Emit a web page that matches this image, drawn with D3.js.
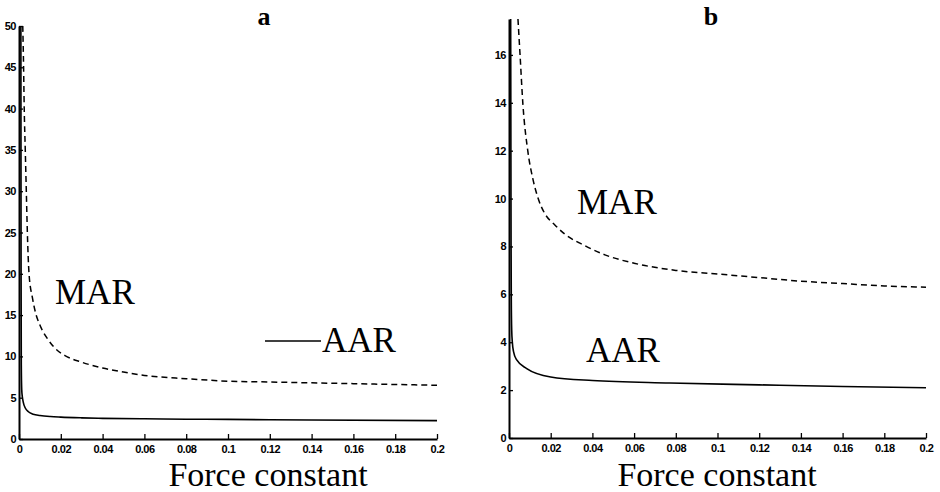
<!DOCTYPE html>
<html>
<head>
<meta charset="utf-8">
<script src="https://cdn.jsdelivr.net/npm/d3@7"></script>
<style>
  body { margin: 0; background: #fff; }
</style>
</head>
<body>
<svg id="chart" width="940" height="492"></svg>
<script>
// panel a
var aForce = [0.0009, 0.001, 0.0011, 0.0013, 0.0016, 0.002, 0.003, 0.0045, 0.0068, 0.01, 0.015, 0.02, 0.03, 0.04, 0.06, 0.08, 0.1, 0.14, 0.2];
var aAAR   = [50, 20, 9, 6, 5.1, 4.5, 3.75, 3.3, 3.0, 2.85, 2.72, 2.65, 2.56, 2.5, 2.45, 2.4, 2.37, 2.3, 2.22];
var aMarForce = [0.0018, 0.0022, 0.0025, 0.003, 0.0035, 0.004, 0.0048, 0.0065, 0.008, 0.01, 0.014, 0.018, 0.022, 0.03, 0.04, 0.05, 0.06, 0.08, 0.1, 0.12, 0.14, 0.16, 0.18, 0.2];
var aMAR      = [50, 45, 40, 35, 30, 25, 20, 17, 15.2, 13.8, 12, 10.8, 10.1, 9.3, 8.6, 8.1, 7.7, 7.3, 7.0, 6.9, 6.8, 6.7, 6.6, 6.5];

// panel b
var bForce = [0.0008, 0.001, 0.0011, 0.0013, 0.0016, 0.0022, 0.0037, 0.0085, 0.02, 0.04, 0.077, 0.12, 0.16, 0.2];
var bAAR   = [17.5, 8, 5.8, 4.5, 4.0, 3.6, 3.26, 2.9, 2.55, 2.4, 2.3, 2.22, 2.15, 2.1];
var bMarForce = [0.0043, 0.0053, 0.0067, 0.009, 0.0115, 0.014, 0.017, 0.022, 0.027, 0.036, 0.046, 0.06, 0.08, 0.1, 0.12, 0.14, 0.16, 0.18, 0.2];
var bMAR      = [17.5, 16, 13.9, 12, 10.8, 10, 9.4, 8.9, 8.5, 8.05, 7.65, 7.3, 7.0, 6.85, 6.7, 6.55, 6.45, 6.35, 6.3];

var xTicks = [0, 0.02, 0.04, 0.06, 0.08, 0.1, 0.12, 0.14, 0.16, 0.18, 0.2];
var aYTicks = [0, 5, 10, 15, 20, 25, 30, 35, 40, 45, 50];
var bYTicks = [0, 2, 4, 6, 8, 10, 12, 14, 16];

var serif = '"Liberation Serif", "Times New Roman", serif';
var sans = '"Liberation Sans", Arial, Helvetica, sans-serif';

var svg = d3.select('#chart');

function panel(opt) {
  var g = svg.append('g');
  var x = d3.scaleLinear().domain([0, 0.2]).range([opt.left, opt.right]);
  var y = d3.scaleLinear().domain([0, opt.ymax]).range([opt.bottom, opt.top]);

  var clipId = 'clip-' + opt.name;
  svg.append('clipPath').attr('id', clipId)
    .append('rect').attr('x', opt.left).attr('y', opt.top)
    .attr('width', opt.right - opt.left + 2).attr('height', opt.bottom - opt.top);

  var line = d3.line()
    .x(function(d) { return x(d[0]); })
    .y(function(d) { return y(d[1]); })
    .curve(d3.curveMonotoneX);

  g.append('path')
    .datum(d3.zip(opt.marX, opt.mar))
    .attr('clip-path', 'url(#' + clipId + ')')
    .attr('d', line)
    .attr('fill', 'none').attr('stroke', '#000')
    .attr('stroke-width', 1.5).attr('stroke-dasharray', '6,4');

  g.append('path')
    .datum(d3.zip(opt.aarX, opt.aar))
    .attr('clip-path', 'url(#' + clipId + ')')
    .attr('d', line)
    .attr('fill', 'none').attr('stroke', '#000')
    .attr('stroke-width', 1.6);

  var xAxis = d3.axisBottom(x).tickValues(xTicks)
    .tickFormat(function(d) { return d3.format('~g')(d); })
    .tickSizeInner(-5).tickSizeOuter(0).tickPadding(6);
  g.append('g').attr('transform', 'translate(0,' + opt.bottom + ')').call(xAxis);

  var yAxis = d3.axisLeft(y).tickValues(opt.yTicks)
    .tickSizeInner(-4).tickSizeOuter(0).tickPadding(3);
  g.append('g').attr('transform', 'translate(' + opt.left + ',0)').call(yAxis);

  g.selectAll('.domain').attr('stroke', '#000').attr('stroke-width', 2);
  g.selectAll('.tick line').attr('stroke', '#000').attr('stroke-width', 1.3);
  g.selectAll('.tick text').attr('fill', '#000')
    .style('font-family', sans).style('font-weight', 'bold')
    .style('font-size', '11px').style('letter-spacing', '-0.5px');

  g.append('text')
    .style('font-family', serif).style('font-size', '26px').style('font-weight', 'bold')
    .attr('x', opt.titleX).attr('y', 25).attr('text-anchor', 'middle').text(opt.name);

  g.append('text')
    .style('font-family', serif).style('font-size', '34px')
    .attr('x', opt.xlabX).attr('y', 486).attr('text-anchor', 'middle').text('Force constant');

  g.append('text')
    .style('font-family', serif).style('font-size', '35px')
    .attr('x', opt.marLab[0]).attr('y', opt.marLab[1]).text('MAR');
  g.append('text')
    .style('font-family', serif).style('font-size', '35px')
    .attr('x', opt.aarLab[0]).attr('y', opt.aarLab[1]).text('AAR');

  if (opt.aarLine) {
    g.append('line')
      .attr('x1', opt.aarLine[0]).attr('x2', opt.aarLine[1])
      .attr('y1', opt.aarLine[2]).attr('y2', opt.aarLine[2])
      .attr('stroke', '#000').attr('stroke-width', 1.6);
  }
}

panel({
  name: 'a', left: 19, right: 437, top: 26, bottom: 439, ymax: 50,
  yTicks: aYTicks, aarX: aForce, aar: aAAR, marX: aMarForce, mar: aMAR,
  titleX: 264, xlabX: 268, marLab: [55, 304], aarLab: [322, 352], aarLine: [265, 321, 341]
});

panel({
  name: 'b', left: 509, right: 926, top: 19, bottom: 438, ymax: 17.5,
  yTicks: bYTicks, aarX: bForce, aar: bAAR, marX: bMarForce, mar: bMAR,
  titleX: 711, xlabX: 717, marLab: [577, 214], aarLab: [586, 362]
});
</script>
</body>
</html>
